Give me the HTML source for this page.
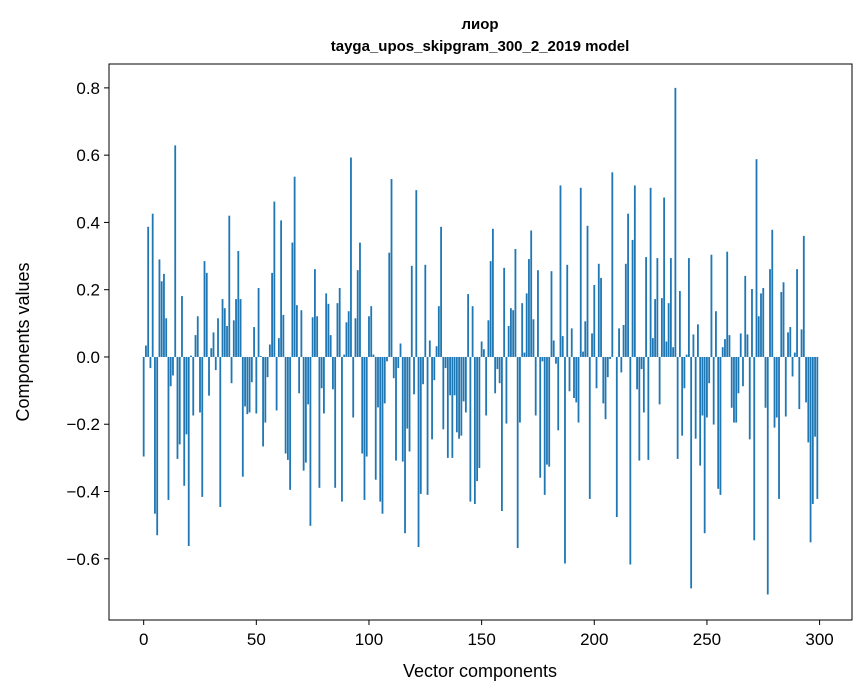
<!DOCTYPE html>
<html><head><meta charset="utf-8">
<style>
html,body{margin:0;padding:0;background:#fff;}
svg{display:block;font-family:"Liberation Sans","DejaVu Sans",sans-serif;}
</style></head>
<body>
<svg id="chart" width="867" height="696" viewBox="0 0 867 696" xmlns="http://www.w3.org/2000/svg">
<rect width="867" height="696" fill="#fff"/>
<text x="480" y="29" text-anchor="middle" font-size="15" font-weight="bold">лиор</text>
<text x="480" y="51" text-anchor="middle" font-size="15" font-weight="bold">tayga_upos_skipgram_300_2_2019 model</text>
<g id="bars"></g>
<g id="xticks"></g>
<g id="yticks"></g>
<rect x="109" y="64" width="743" height="556" fill="none" stroke="#000" stroke-width="1"/>
<text x="480" y="677" text-anchor="middle" font-size="18">Vector components</text>
<text transform="translate(29,342) rotate(-90)" text-anchor="middle" font-size="18">Components values</text>
</svg>
<script>
const values1 = [-0.296,0.034,0.387,-0.033,0.426,-0.466,-0.53,0.29,0.225,0.247,0.115,-0.425,-0.087,-0.055,0.629,-0.303,-0.26,0.181,-0.383,-0.23,-0.562,0.004,-0.174,0.065,0.121,-0.165,-0.416,0.285,0.25,-0.115,0.026,0.073,-0.039,0.115,-0.446,0.172,0.145,0.092,0.42,-0.078,0.109,0.172,0.315,0.172,-0.356,-0.147,-0.17,-0.165,-0.075,0.089,-0.168];
const values2 = [0.205,0.003,-0.266,-0.195,-0.06,0.037,0.25,0.462,-0.159,0.056,0.406,0.125,-0.287,-0.306,-0.395,0.34,0.536,0.154,-0.108,0.139,-0.338,-0.314,-0.141,-0.502,0.118,0.261,0.121,-0.389,-0.093,-0.168,0.189,0.158,0.065,-0.096,-0.389,0.16,0.205,-0.43,0.007,0.103,0.136,0.593,-0.18,0.115,0.258,0.34,-0.287,-0.425,-0.296];
const values3 = [0.121,0.151,0.007,-0.365,-0.15,-0.43,-0.466,-0.138,-0.013,0.31,0.529,-0.063,-0.308,-0.033,0.04,-0.311,-0.524,-0.213,-0.281,0.271,-0.111,0.496,-0.565,-0.407,-0.081,0.274,-0.41,0.049,-0.245,-0.069,0.032,0.151,0.387,-0.215,-0.033,-0.3,-0.114,-0.3,-0.114,-0.224,-0.243,-0.234,-0.132,-0.165,0.187,-0.43,0.151,-0.437,-0.369,-0.33];
const values4 = [0.046,0.023,-0.174,0.109,0.285,0.381,-0.108,-0.036,-0.078,-0.458,0.265,-0.198,0.092,0.145,0.139,0.321,-0.568,-0.195,0.16,0.013,0.189,0.291,0.376,0.112,-0.174,0.258,-0.359,-0.013,-0.41,-0.32,-0.326,0.255,0.049,-0.02,-0.218,0.51,0.062,-0.614,0.274,-0.102,0.085,-0.122,-0.135,-0.195,0.503,0.016,0.106,0.39,-0.422,0.07];
const values5 = [0.214,-0.093,0.277,0.235,-0.138,-0.185,-0.06,-0.006,0.549,0.0,-0.476,0.085,-0.046,0.095,0.277,0.426,-0.617,0.348,0.51,-0.096,-0.308,-0.036,-0.165,0.297,-0.306,0.503,0.056,0.172,0.294,-0.141,0.175,0.474,0.046,0.16,0.294,0.029,0.8,-0.303,0.196,-0.234,-0.093,0.007,0.294,-0.688,0.067,-0.243,0.097,-0.323,-0.174,-0.524];
const values6 = [-0.18,-0.078,0.304,-0.201,0.136,-0.392,-0.41,0.029,0.053,0.313,0.065,-0.151,-0.195,-0.195,-0.108,0.07,-0.087,0.241,0.067,-0.245,0.202,-0.545,0.588,0.121,0.189,0.205,-0.151,-0.706,0.261,0.378,-0.21,-0.18,-0.422,0.193,0.222,-0.177,0.073,0.089,-0.058,0.013,0.261,-0.155,0.082,0.36,-0.135,-0.254,-0.551,-0.437,-0.237,-0.422];
const values = values1.concat(values2, values3, values4, values5, values6);
const xTickValues = [0,50,100,150,200,250,300];
const yTickValues = [-0.6,-0.4,-0.2,0.0,0.2,0.4,0.6,0.8];

const PL=109, PR=852, PT=64, PB=620;
const XMIN=-15.39, XMAX=314.39, YMIN=-0.782, YMAX=0.871;
function xs(v){return PL+(v-XMIN)/(XMAX-XMIN)*(PR-PL);}
function ys(v){return PB-(v-YMIN)/(YMAX-YMIN)*(PB-PT);}
const NS='http://www.w3.org/2000/svg';
const barsG=document.getElementById('bars');
values.forEach((v,i)=>{
  const r=document.createElementNS(NS,'rect');
  const x0=xs(i-0.4), x1=xs(i+0.4);
  const y0=ys(Math.max(v,0)), y1=ys(Math.min(v,0));
  r.setAttribute('x',x0);
  r.setAttribute('width',x1-x0);
  r.setAttribute('y',y0);
  r.setAttribute('height',Math.max(y1-y0,0));
  r.setAttribute('fill','#1f77b4');
  
  
  barsG.appendChild(r);
});
const xg=document.getElementById('xticks');
xTickValues.forEach(t=>{
  const x=xs(t);
  const l=document.createElementNS(NS,'line');
  l.setAttribute('x1',x);l.setAttribute('x2',x);l.setAttribute('y1',PB);l.setAttribute('y2',PB+5);
  l.setAttribute('stroke','#000');
  
  
  xg.appendChild(l);
  const tx=document.createElementNS(NS,'text');
  tx.setAttribute('x',x);tx.setAttribute('y',PB+25);
  tx.setAttribute('text-anchor','middle');tx.setAttribute('font-size','17');
  tx.textContent=String(t);
  
  
  xg.appendChild(tx);
});
const yg=document.getElementById('yticks');
yTickValues.forEach(t=>{
  const y=ys(t);
  const l=document.createElementNS(NS,'line');
  l.setAttribute('x1',PL-5);l.setAttribute('x2',PL);l.setAttribute('y1',y);l.setAttribute('y2',y);
  l.setAttribute('stroke','#000');
  
  
  yg.appendChild(l);
  const tx=document.createElementNS(NS,'text');
  tx.setAttribute('x',PL-9);tx.setAttribute('y',y+6);
  tx.setAttribute('text-anchor','end');tx.setAttribute('font-size','17');
  tx.textContent=(t<0?'\u2212':'')+Math.abs(t).toFixed(1);
  
  
  yg.appendChild(tx);
});
</script>
</body></html>
